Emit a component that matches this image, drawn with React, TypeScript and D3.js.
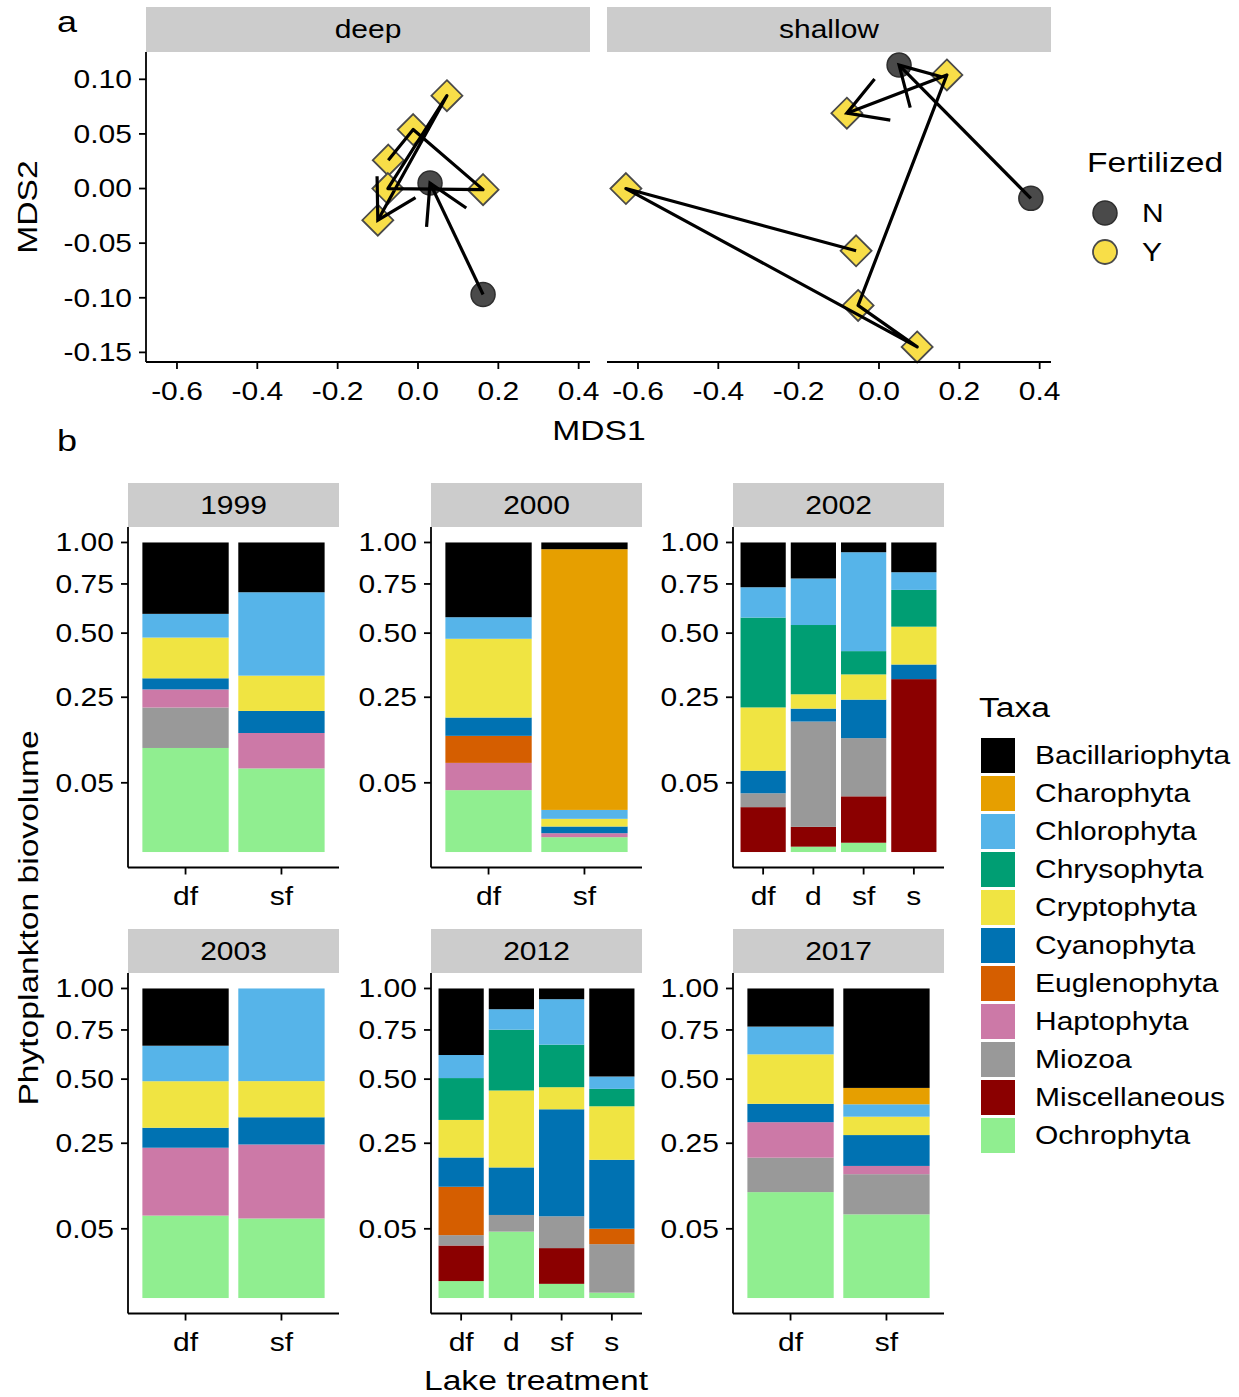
import React from "react";
import * as d3 from "d3";

// ---- panel b: taxa and relative biovolume per lake ----
const taxa = [
  "Bacillariophyta", "Charophyta", "Chlorophyta", "Chrysophyta", "Cryptophyta",
  "Cyanophyta", "Euglenophyta", "Haptophyta", "Miozoa", "Miscellaneous", "Ochrophyta",
];
const taxaColors = [
  "#000000", "#E69F00", "#56B4E9", "#009E73", "#F0E442",
  "#0072B2", "#D55E00", "#CC79A7", "#999999", "#8B0000", "#90EE90",
];
const years = ["1999", "2000", "2002", "2003", "2012", "2017"];

// values in taxa order
const bio1999 = {
  df: [0.408, 0, 0.112, 0, 0.165, 0.039, 0, 0.058, 0.105, 0, 0.113],
  sf: [0.296, 0, 0.38, 0, 0.117, 0.06, 0, 0.075, 0, 0, 0.073],
};
const bio2000 = {
  df: [0.425, 0, 0.101, 0, 0.286, 0.048, 0.058, 0.043, 0, 0, 0.04],
  sf: [0.043, 0.939, 0.007, 0, 0.0047, 0.0031, 0, 0.0014, 0, 0, 0.0023],
};
const bio2002 = {
  df: [0.268, 0, 0.158, 0.355, 0.149, 0.033, 0, 0, 0.015, 0.021, 0],
  d: [0.219, 0, 0.243, 0.278, 0.045, 0.037, 0, 0, 0.171, 0.0063, 0.0003],
  sf: [0.062, 0, 0.517, 0.092, 0.087, 0.107, 0, 0, 0.103, 0.0315, 0.0009],
  s: [0.183, 0, 0.1, 0.187, 0.163, 0.055, 0, 0, 0, 0.312, 0],
};
const bio2003 = {
  df: [0.336, 0, 0.174, 0, 0.188, 0.067, 0, 0.165, 0, 0, 0.071],
  sf: [0, 0, 0.509, 0, 0.15, 0.095, 0, 0.18, 0, 0, 0.066],
};
const bio2012 = {
  df: [0.384, 0, 0.1115, 0.174, 0.125, 0.077, 0.088, 0, 0.0125, 0.0258, 0.003],
  d: [0.1295, 0, 0.119, 0.302, 0.2715, 0.106, 0, 0, 0.026, 0, 0.046],
  sf: [0.068, 0, 0.262, 0.206, 0.092, 0.302, 0, 0, 0.0437, 0.0239, 0.0021],
  s: [0.488, 0, 0.0556, 0.0728, 0.1844, 0.1493, 0.0198, 0, 0.03, 0, 0.0003],
};
const bio2017 = {
  df: [0.231, 0, 0.149, 0, 0.226, 0.071, 0, 0.117, 0.0885, 0, 0.117],
  sf: [0.539, 0.069, 0.0485, 0, 0.066, 0.095, 0, 0.022, 0.087, 0, 0.073],
};
const bioByYear = [bio1999, bio2000, bio2002, bio2003, bio2012, bio2017];
const bioTicks = [0.05, 0.25, 0.5, 0.75, 1];

// ---- panel a: NMDS trajectories (MDS1, MDS2), in year order ----
const mdsTicksX = [-0.6, -0.4, -0.2, 0, 0.2, 0.4];
const mdsTicksY = [-0.15, -0.1, -0.05, 0, 0.05, 0.1];
const dfYears = ["1999", "2000", "2002", "2003", "2012", "2017"];
const dfMds = [[-0.074, 0.026], [-0.012, 0.054], [0.162, -0.001], [-0.075, 0.0], [0.072, 0.085], [-0.1, -0.029]];
const dYears = ["2002", "2012"];
const dMds = [[0.162, -0.097], [0.03, 0.005]];
const sfYears = ["1999", "2000", "2002", "2003", "2012", "2017"];
const sfMds = [[-0.057, -0.057], [-0.63, 0.0], [0.095, -0.145], [-0.052, -0.107], [0.169, 0.104], [-0.08, 0.069]];
const sYears = ["2002", "2012"];
const sMds = [[0.378, -0.009], [0.05, 0.113]];

const FONT = "'Liberation Sans', Arial, sans-serif";
const SX = 1.2;
const STRIP = "#cccccc";
const FILL_N = "#4a4a4a";
const FILL_Y = "#f8de48";

function Txt({ x, y, size = 25, anchor = "start", rotate = 0, mid = false, children }: any) {
  const t = `translate(${x},${y})${rotate ? ` rotate(${rotate})` : ""} scale(${SX},1)`;
  return (
    <text transform={t} fontSize={size} textAnchor={anchor} fontFamily={FONT} fill="#000" dy={mid ? "0.35em" : undefined}>
      {children}
    </text>
  );
}

function Arrow({ pts }: { pts: [number, number][] }) {
  const line = d3.line();
  const n = pts.length;
  const [tx, ty] = pts[n - 1];
  const [px, py] = pts[n - 2];
  const a = Math.atan2(py - ty, px - tx);
  const L = 44, ang = Math.PI / 6;
  const b1: [number, number] = [tx + L * Math.cos(a + ang), ty + L * Math.sin(a + ang)];
  const b2: [number, number] = [tx + L * Math.cos(a - ang), ty + L * Math.sin(a - ang)];
  return (
    <g fill="none" stroke="#000" strokeWidth={3.2}>
      <path d={line(pts) as string} strokeLinejoin="round" />
      <path d={line([b1, [tx, ty], b2]) as string} />
    </g>
  );
}

function Point({ x, y, fert }: { x: number; y: number; fert: boolean }) {
  if (!fert) return <circle cx={x} cy={y} r={12} fill={FILL_N} stroke="#2e2e2e" strokeWidth={1.5} />;
  const s = 15.5;
  return (
    <path
      d={`M${x},${y - s}L${x + s},${y}L${x},${y + s}L${x - s},${y}Z`}
      fill={FILL_Y}
      stroke="#4a4a4a"
      strokeWidth={1.8}
    />
  );
}

function MdsPanel({ x0, label, series, showY }: any) {
  const W = 444, top = 52, bottom = 362;
  const x = d3.scaleLinear().domain([-0.6771, 0.4282]).range([x0, x0 + W]);
  const y = d3.scaleLinear().domain([-0.1588, 0.125]).range([bottom, top]);
  return (
    <g>
      <rect x={x0} y={7} width={W} height={45} fill={STRIP} />
      <Txt x={x0 + W / 2} y={29.5} anchor="middle" mid>{label}</Txt>
      {series.map((s: any, i: number) =>
        s.pts.map((p: number[], j: number) => (
          <Point key={`${i}-${j}`} x={x(p[0])} y={y(p[1])} fert={s.fert} />
        ))
      )}
      {series.map((s: any, i: number) => (
        <Arrow key={i} pts={s.pts.map((p: number[]) => [x(p[0]), y(p[1])])} />
      ))}
      <line x1={x0} x2={x0 + W} y1={bottom} y2={bottom} stroke="#000" strokeWidth={1.8} />
      {mdsTicksX.map((t) => (
        <g key={t}>
          <line x1={x(t)} x2={x(t)} y1={bottom} y2={bottom + 7} stroke="#000" strokeWidth={1.8} />
          <Txt x={x(t)} y={bottom + 38} anchor="middle">{t.toFixed(1)}</Txt>
        </g>
      ))}
      {showY && (
        <g>
          <line x1={x0} x2={x0} y1={top} y2={bottom} stroke="#000" strokeWidth={1.8} />
          {mdsTicksY.map((t) => (
            <g key={t}>
              <line x1={x0 - 7} x2={x0} y1={y(t)} y2={y(t)} stroke="#000" strokeWidth={1.8} />
              <Txt x={x0 - 14} y={y(t)} anchor="end" mid>{t.toFixed(2)}</Txt>
            </g>
          ))}
        </g>
      )}
    </g>
  );
}

function BarFacet({ year, data, x0, top }: any) {
  const W = 211, stripH = 44, panelH = 340.5;
  const pTop = top + stripH, pBot = pTop + panelH;
  const pad = (panelH * 0.05) / 1.1;
  const lakes = Object.keys(data);
  const x = d3.scaleBand().domain(lakes).range([x0, x0 + W]).paddingInner(0.1).paddingOuter(0.15);
  const y = d3.scaleSqrt().domain([0, 1]).range([pBot - pad, pTop + pad]);
  return (
    <g>
      <rect x={x0} y={top} width={W} height={stripH} fill={STRIP} />
      <Txt x={x0 + W / 2} y={top + stripH / 2} anchor="middle" mid>{year}</Txt>
      {lakes.map((lake) => {
        const vals: number[] = data[lake];
        const total = d3.sum(vals);
        let cum = 0;
        const segs: any[] = [];
        for (let k = vals.length - 1; k >= 0; k--) {
          const v = vals[k] / total;
          if (v > 0) segs.push({ k, y0: cum, y1: cum + v });
          cum += v;
        }
        return (
          <g key={lake}>
            {segs.map((s) => (
              <rect
                key={s.k}
                x={x(lake)}
                width={x.bandwidth()}
                y={y(Math.min(1, s.y1))}
                height={y(s.y0) - y(Math.min(1, s.y1))}
                fill={taxaColors[s.k]}
              />
            ))}
          </g>
        );
      })}
      <line x1={x0} x2={x0} y1={pTop} y2={pBot} stroke="#000" strokeWidth={1.8} />
      <line x1={x0} x2={x0 + W} y1={pBot} y2={pBot} stroke="#000" strokeWidth={1.8} />
      {bioTicks.map((t) => (
        <g key={t}>
          <line x1={x0 - 7} x2={x0} y1={y(t)} y2={y(t)} stroke="#000" strokeWidth={1.8} />
          <Txt x={x0 - 14} y={y(t)} anchor="end" mid>{t.toFixed(2)}</Txt>
        </g>
      ))}
      {lakes.map((lake) => {
        const cx = (x(lake) as number) + x.bandwidth() / 2;
        return (
          <g key={lake}>
            <line x1={cx} x2={cx} y1={pBot} y2={pBot + 7} stroke="#000" strokeWidth={1.8} />
            <Txt x={cx} y={pBot + 37} anchor="middle">{lake}</Txt>
          </g>
        );
      })}
    </g>
  );
}

export default function App() {
  const deepSeries = [
    { pts: dfMds, years: dfYears, fert: true },
    { pts: dMds, years: dYears, fert: false },
  ];
  const shallowSeries = [
    { pts: sfMds, years: sfYears, fert: true },
    { pts: sMds, years: sYears, fert: false },
  ];
  const colX = [128, 431, 733];
  const rowTop = [483, 929];
  return (
    <svg width={1239} height={1397} style={{ position: "absolute", left: 0, top: 0, background: "#fff" }}>
      <rect width={1239} height={1397} fill="#fff" />
      <Txt x={57} y={32} size={30}>a</Txt>
      <Txt x={57} y={451} size={30}>b</Txt>

      <MdsPanel x0={146} label="deep" series={deepSeries} showY />
      <MdsPanel x0={607} label="shallow" series={shallowSeries} showY={false} />
      <Txt x={599} y={440} size={28} anchor="middle">MDS1</Txt>
      <Txt x={37} y={207} size={28} anchor="middle" rotate={-90}>MDS2</Txt>

      <Txt x={1087} y={172} size={28}>Fertilized</Txt>
      <circle cx={1105} cy={213} r={12} fill={FILL_N} stroke="#2e2e2e" strokeWidth={1.5} />
      <circle cx={1105} cy={252} r={12} fill={FILL_Y} stroke="#4a4a4a" strokeWidth={1.8} />
      <Txt x={1142} y={213} mid>N</Txt>
      <Txt x={1142} y={252} mid>Y</Txt>

      {years.map((yr, i) => (
        <BarFacet key={yr} year={yr} data={bioByYear[i]} x0={colX[i % 3]} top={rowTop[Math.floor(i / 3)]} />
      ))}
      <Txt x={536} y={1390} size={28} anchor="middle">Lake treatment</Txt>
      <Txt x={38} y={918} size={28} anchor="middle" rotate={-90}>Phytoplankton biovolume</Txt>

      <Txt x={979} y={717} size={28}>Taxa</Txt>
      {taxa.map((t, i) => (
        <g key={t}>
          <rect x={981} y={738 + 38 * i} width={34} height={35} fill={taxaColors[i]} />
          <Txt x={1035} y={755.5 + 38 * i} mid>{t}</Txt>
        </g>
      ))}
    </svg>
  );
}
